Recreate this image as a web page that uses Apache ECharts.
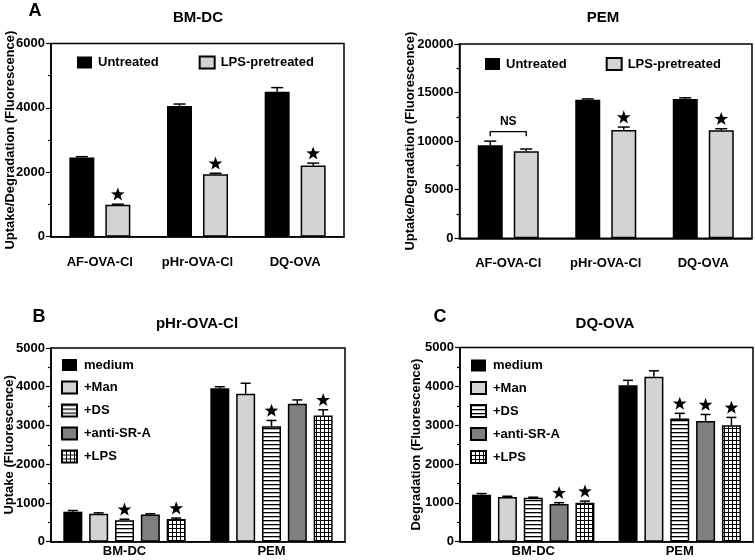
<!DOCTYPE html>
<html>
<head>
<meta charset="utf-8">
<script src="https://cdn.jsdelivr.net/npm/echarts@6/dist/echarts.min.js"></script>
<style>html,body{margin:0;padding:0;background:#fff}#c{width:755px;height:560px}</style>
</head>
<body>
<div id="c"></div>
<script>
// ---------- DATA ----------
const catsA = ['AF-OVA-Cl', 'pHr-OVA-Cl', 'DQ-OVA'];
const namesA = ['Untreated', 'LPS-pretreated'];
// Panel A, BM-DC
const bmdcUntreated = [2460, 4060, 4500];
const bmdcUntreatedErr = [25, 60, 130];
const bmdcUntreatedStar = [0, 0, 0];
const bmdcLps = [990, 1940, 2210];
const bmdcLpsErr = [20, 30, 75];
const bmdcLpsStar = [1, 1, 1];
// Panel A, PEM
const pemUntreated = [9580, 14250, 14330];
const pemUntreatedErr = [420, 100, 130];
const pemUntreatedStar = [0, 0, 0];
const pemLps = [8970, 11150, 11130];
const pemLpsErr = [220, 300, 150];
const pemLpsStar = [0, 1, 1];
const nsBracketCat = [0]; // "NS" bracket over AF-OVA-Cl in PEM

const catsBC = ['BM-DC', 'PEM'];
const namesBC = ['medium', '+Man', '+DS', '+anti-SR-A', '+LPS'];
// Panel B, pHr-OVA-Cl uptake: [BM-DC, PEM]
const bMedium = [775, 3960];   const bMediumErr = [30, 40];   const bMediumStar = [0, 0];
const bMan = [720, 3820];      const bManErr = [25, 270];     const bManStar = [0, 0];
const bDS = [555, 2980];       const bDSErr = [25, 150];      const bDSStar = [1, 1];
const bAnti = [700, 3560];     const bAntiErr = [20, 100];    const bAntiStar = [0, 0];
const bLPS = [585, 3260];      const bLPSErr = [25, 145];     const bLPSStar = [1, 1];
// Panel C, DQ-OVA degradation
const cMedium = [1210, 4030];  const cMediumErr = [30, 125];  const cMediumStar = [0, 0];
const cMan = [1150, 4250];     const cManErr = [20, 150];     const cManStar = [0, 0];
const cDS = [1130, 3170];      const cDSErr = [15, 135];      const cDSStar = [0, 1];
const cAnti = [970, 3110];     const cAntiErr = [35, 165];    const cAntiStar = [1, 1];
const cLPS = [1000, 3000];     const cLPSErr = [45, 200];     const cLPSStar = [1, 1];

// ---------- STYLE ----------
const FONT = 'Liberation Sans, Arial, Helvetica, sans-serif';
const BLACK = '#000';
function stripePattern() {
  const c = document.createElement('canvas'); c.width = 4; c.height = 4;
  const g = c.getContext('2d'); g.fillStyle = '#fff'; g.fillRect(0, 0, 4, 4);
  g.fillStyle = '#000'; g.fillRect(0, 0, 4, 1.3); return c;
}
function gridPattern() {
  const c = document.createElement('canvas'); c.width = 4; c.height = 4;
  const g = c.getContext('2d'); g.fillStyle = '#fff'; g.fillRect(0, 0, 4, 4);
  g.fillStyle = '#000'; g.fillRect(0, 0, 4, 1); g.fillRect(0, 0, 1, 4); return c;
}
const stylesA = [
  { color: '#000', borderColor: '#000', borderWidth: 0 },
  { color: '#d3d3d3', borderColor: '#000', borderWidth: 1.5 }
];
const stylesBC = [
  { color: '#000', borderColor: '#000', borderWidth: 0 },
  { color: '#d3d3d3', borderColor: '#000', borderWidth: 1.5 },
  { color: { image: stripePattern(), repeat: 'repeat' }, borderColor: '#000', borderWidth: 1.5 },
  { color: '#7f7f7f', borderColor: '#000', borderWidth: 1.5 },
  { color: { image: gridPattern(), repeat: 'repeat' }, borderColor: '#000', borderWidth: 1.5 }
];

const grids = [
  { left: 51, top: 43.5, width: 293, height: 193.2 },
  { left: 459.5, top: 44, width: 292.5, height: 194.3 },
  { left: 51, top: 348, width: 294, height: 193.7 },
  { left: 460, top: 347.5, width: 293, height: 194.2 }
].map(g => Object.assign({ show: true, borderColor: BLACK, borderWidth: 1.5, backgroundColor: 'transparent' }, g));

function xAxis(gi, cats, margin) {
  return {
    type: 'category', gridIndex: gi, data: cats,
    axisLine: { lineStyle: { color: BLACK, width: 1.5 } },
    axisTick: { alignWithLabel: true, length: 4, lineStyle: { color: BLACK, width: 1.2 } },
    axisLabel: { margin: margin, color: BLACK, fontFamily: FONT, fontWeight: 'bold', fontSize: 13 },
    splitLine: { show: false }
  };
}
function yAxis(gi, max, interval, name, nameGap) {
  return {
    type: 'value', gridIndex: gi, min: 0, max: max, interval: interval,
    name: name, nameLocation: 'middle', nameGap: nameGap, nameMoveOverlap: false,
    nameTextStyle: { color: BLACK, fontFamily: FONT, fontWeight: 'bold', fontSize: 13 },
    axisLine: { show: true, lineStyle: { color: BLACK, width: 1.5 } },
    axisTick: { show: true, length: 5, lineStyle: { color: BLACK, width: 1.2 } },
    minorTick: { show: true, splitNumber: 2, length: 3, lineStyle: { color: BLACK, width: 1.2 } },
    axisLabel: { margin: 6, color: BLACK, fontFamily: FONT, fontWeight: 'bold', fontSize: 13, formatter: v => String(v) },
    splitLine: { show: false }
  };
}

function starPoints(cx, cy, R, r) {
  const pts = [];
  for (let k = 0; k < 10; k++) {
    const rad = k % 2 === 0 ? R : r;
    const ang = -Math.PI / 2 + k * Math.PI / 5;
    pts.push([cx + rad * Math.cos(ang), cy + rad * Math.sin(ang)]);
  }
  return pts;
}

const series = [];
function addGroup(gi, names, styles, vals, errs, stars, bw, gapPx, capW) {
  const n = names.length;
  names.forEach((nm, i) => {
    series.push({
      type: 'bar', name: nm, xAxisIndex: gi, yAxisIndex: gi,
      data: vals[i], barWidth: bw, barGap: (gapPx / bw * 100) + '%',
      itemStyle: styles[i], z: 2
    });
  });
  names.forEach((nm, i) => {
    const off = (i - (n - 1) / 2) * (bw + gapPx);
    series.push({
      type: 'custom', name: nm + ' err', xAxisIndex: gi, yAxisIndex: gi, z: 5, clip: false,
      data: vals[i].map((v, k) => [k, v, errs[i][k], stars[i][k]]),
      encode: { x: 0, y: 1 },
      renderItem: function (params, api) {
        const base = api.coord([api.value(0), api.value(1)]);
        const top = api.coord([api.value(0), api.value(1) + api.value(2)]);
        const x = base[0] + off;
        const ls = { stroke: BLACK, lineWidth: 1.5 };
        const ch = [
          { type: 'line', shape: { x1: x, y1: base[1], x2: x, y2: top[1] }, style: ls },
          { type: 'line', shape: { x1: x - capW / 2, y1: top[1], x2: x + capW / 2, y2: top[1] }, style: ls }
        ];
        if (api.value(3)) {
          ch.push({ type: 'polygon', shape: { points: starPoints(x, top[1] - 9.5, 7.2, 2.9) }, style: { fill: BLACK } });
        }
        return { type: 'group', children: ch };
      }
    });
  });
}

addGroup(0, namesA, stylesA, [bmdcUntreated, bmdcLps], [bmdcUntreatedErr, bmdcLpsErr], [bmdcUntreatedStar, bmdcLpsStar], 25, 11, 12);
addGroup(1, namesA, stylesA, [pemUntreated, pemLps], [pemUntreatedErr, pemLpsErr], [pemUntreatedStar, pemLpsStar], 25, 11, 12);
addGroup(2, namesBC, stylesBC, [bMedium, bMan, bDS, bAnti, bLPS], [bMediumErr, bManErr, bDSErr, bAntiErr, bLPSErr], [bMediumStar, bManStar, bDSStar, bAntiStar, bLPSStar], 19, 6.84, 10);
addGroup(3, namesBC, stylesBC, [cMedium, cMan, cDS, cAnti, cLPS], [cMediumErr, cManErr, cDSErr, cAntiErr, cLPSErr], [cMediumStar, cManStar, cDSStar, cAntiStar, cLPSStar], 19, 6.84, 10);

// NS bracket
series.push({
  type: 'custom', name: 'NS', xAxisIndex: 1, yAxisIndex: 1, z: 6, clip: false,
  data: nsBracketCat.map(k => [k, Math.max(pemUntreated[k] + pemUntreatedErr[k], pemLps[k] + pemLpsErr[k])]),
  encode: { x: 0, y: 1 },
  renderItem: function (params, api) {
    const p = api.coord([api.value(0), api.value(1)]);
    const y = p[1] - 9.5, x1 = p[0] - 18, x2 = p[0] + 18;
    const ls = { stroke: BLACK, lineWidth: 1.3, fill: null };
    return {
      type: 'group', children: [
        { type: 'polyline', shape: { points: [[x1, y + 4.5], [x1, y], [x2, y], [x2, y + 4.5]] }, style: ls },
        { type: 'text', x: p[0], y: y - 4, style: { text: 'NS', fill: BLACK, font: 'bold 12px ' + FONT, align: 'center', verticalAlign: 'bottom' } }
      ]
    };
  }
});

const legendTextA = { color: BLACK, fontFamily: FONT, fontWeight: 'bold', fontSize: 13, padding: [0, 0, 0, 1] };
const legendTextBC = { color: BLACK, fontFamily: FONT, fontWeight: 'bold', fontSize: 13, padding: [0, 0, 0, 2] };
const legendBase = { icon: 'rect', itemWidth: 15, itemHeight: 12, padding: 0, selectedMode: false };
const option = {
  animation: false,
  backgroundColor: '#fff',
  grid: grids,
  xAxis: [xAxis(0, catsA, 19), xAxis(1, catsA, 19), xAxis(2, catsBC, 3), xAxis(3, catsBC, 3)],
  yAxis: [
    yAxis(0, 6000, 2000, 'Uptake/Degradation (Fluorescence)', 34.5),
    yAxis(1, 20000, 5000, 'Uptake/Degradation (Fluorescence)', 43),
    yAxis(2, 5000, 1000, 'Uptake (Fluorescence)', 35.5),
    yAxis(3, 5000, 1000, 'Degradation (Fluorescence)', 37.5)
  ],
  legend: [
    Object.assign({ data: namesA, left: 77, top: 55.5, itemGap: 40, textStyle: legendTextA }, legendBase),
    Object.assign({ data: namesA, left: 485, top: 57, itemGap: 39, textStyle: legendTextA }, legendBase),
    Object.assign({ data: namesBC, orient: 'vertical', left: 61, top: 358.5, itemGap: 9, textStyle: legendTextBC }, legendBase),
    Object.assign({ data: namesBC, orient: 'vertical', left: 470, top: 359, itemGap: 9, textStyle: legendTextBC }, legendBase)
  ],
  graphic: [
    { type: 'text', x: 35, y: 11, style: { text: 'A', font: 'bold 18px ' + FONT, fill: BLACK, align: 'center', verticalAlign: 'middle' } },
    { type: 'text', x: 198, y: 17.5, style: { text: 'BM-DC', font: 'bold 15px ' + FONT, fill: BLACK, align: 'center', verticalAlign: 'middle' } },
    { type: 'text', x: 603, y: 18, style: { text: 'PEM', font: 'bold 15px ' + FONT, fill: BLACK, align: 'center', verticalAlign: 'middle' } },
    { type: 'text', x: 39, y: 317, style: { text: 'B', font: 'bold 18px ' + FONT, fill: BLACK, align: 'center', verticalAlign: 'middle' } },
    { type: 'text', x: 197, y: 323.5, style: { text: 'pHr-OVA-Cl', font: 'bold 15px ' + FONT, fill: BLACK, align: 'center', verticalAlign: 'middle' } },
    { type: 'text', x: 440, y: 317, style: { text: 'C', font: 'bold 18px ' + FONT, fill: BLACK, align: 'center', verticalAlign: 'middle' } },
    { type: 'text', x: 605, y: 323.5, style: { text: 'DQ-OVA', font: 'bold 15px ' + FONT, fill: BLACK, align: 'center', verticalAlign: 'middle' } }
  ],
  series: series
};
const chart = echarts.init(document.getElementById('c'), null, { renderer: 'canvas' });
chart.setOption(option);
</script>
</body>
</html>
